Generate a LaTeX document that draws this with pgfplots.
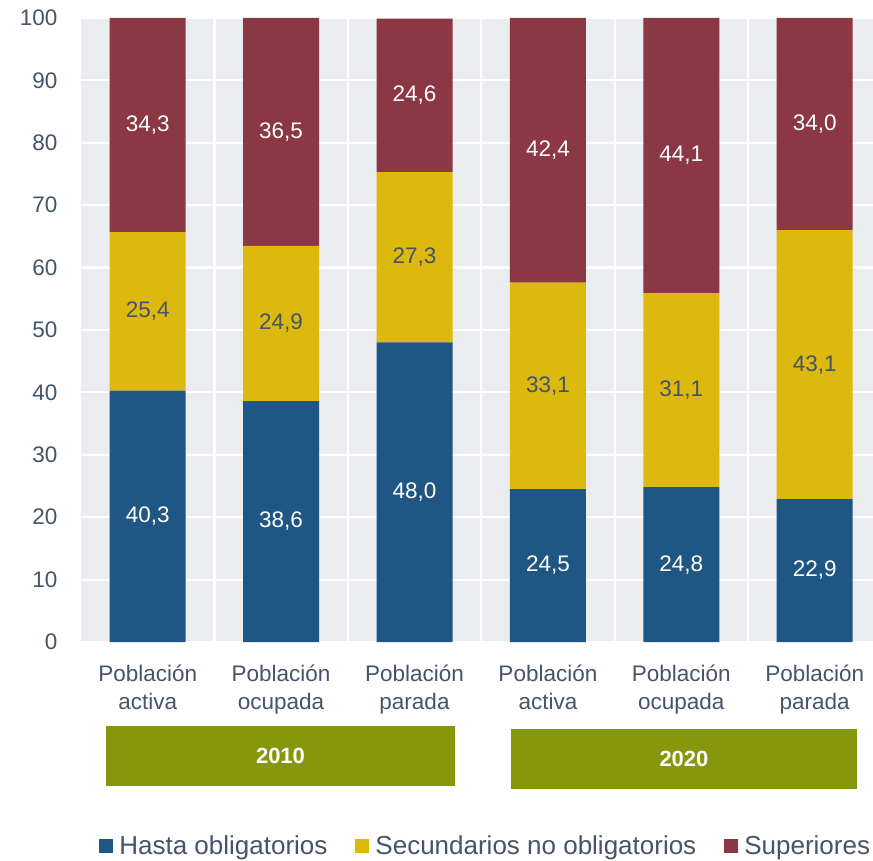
\documentclass[border=0pt]{standalone}
\usepackage{fontspec}
\setmainfont{Liberation Sans}
\usepackage{pgfplots}
\usepackage{pgfplotstable}
\pgfplotsset{compat=1.18}
\definecolor{cblue}{HTML}{1F5683}
\definecolor{cyellow}{HTML}{DDB90E}
\definecolor{cred}{HTML}{8B3744}
\definecolor{colive}{HTML}{87970B}
\definecolor{bggrey}{HTML}{EBECEF}
\definecolor{txt}{HTML}{44546A}
\pgfplotstableread{
x a b c
0 40.3 25.4 34.3
1 38.6 24.9 36.5
2 48.0 27.3 24.6
3 24.5 33.1 42.4
4 24.8 31.1 44.1
5 22.9 43.1 34.0
}\datatable
\begin{document}
\begin{tikzpicture}
\useasboundingbox (0,0) rectangle (873pt,860pt);
\begin{axis}[
  at={(81pt,218pt)}, anchor=south west,
  x=133.4pt, y=6.24pt,
  xmin=-0.5, xmax=5.437, ymin=0, ymax=100,
  ybar stacked, bar width=76pt,
  clip=false,
  axis background/.style={fill=bggrey},
  axis line style={draw=none},
  major tick length=0pt, minor tick length=0pt,
  ytick={0,10,...,100},
  ymajorgrids, grid style={white, line width=2.2pt},
  xtick={0,...,5},
  minor xtick={0.5,1.5,2.5,3.5,4.5},
  xminorgrids, minor grid style={white, line width=2.2pt},
  xticklabels={{Población\\activa},{Población\\ocupada},{Población\\parada},{Población\\activa},{Población\\ocupada},{Población\\parada}},
  xticklabel style={align=center, font=\fontsize{22.5}{28}\selectfont, text=txt, yshift=-19pt},
  yticklabel style={font=\fontsize{22.5}{27}\selectfont, text=txt, xshift=-20pt},
  /pgf/number format/assume math mode=true,
  legend columns=3,
  legend style={draw=none, fill=none, at={(0.511,-0.327)}, anchor=center,
    font=\fontsize{26}{30}\selectfont, text=txt,
    /tikz/every even column/.append style={column sep=26pt}},
  visualization depends on=rawy\as\rawy,
  nodes near coords={\pgfmathprintnumber[fixed,fixed zerofill,precision=1,use comma]{\rawy}},
  every node near coord/.append style={anchor=center, font=\fontsize{22.5}{27}\selectfont},
]
\addplot[fill=cblue, draw=none,
  legend image code/.code={\fill[cblue] (0pt,-7pt) rectangle (14pt,7pt); \path (18pt,0pt);},
  every node near coord/.append style={text=white}]
  table[x=x,y=a]{\datatable};
\addplot[fill=cyellow, draw=none,
  legend image code/.code={\fill[cyellow] (0pt,-7pt) rectangle (14pt,7pt); \path (18pt,0pt);},
  every node near coord/.append style={text=txt}]
  table[x=x,y=b]{\datatable};
\addplot[fill=cred, draw=none,
  legend image code/.code={\fill[cred] (0pt,-7pt) rectangle (14pt,7pt); \path (18pt,0pt);},
  every node near coord/.append style={text=white}]
  table[x=x,y=c]{\datatable};
\legend{Hasta obligatorios, Secundarios no obligatorios, Superiores}
\node[fill=colive, minimum width=349pt, minimum height=60pt, inner sep=0pt,
  text=white, font=\bfseries\fontsize{22}{26}\selectfont] at (axis cs:0.9955,-18.27) {2010};
\node[fill=colive, minimum width=346pt, minimum height=60pt, inner sep=0pt,
  text=white, font=\bfseries\fontsize{22}{26}\selectfont] at (axis cs:4.02,-18.75) {2020};
\end{axis}
\end{tikzpicture}
\end{document}
